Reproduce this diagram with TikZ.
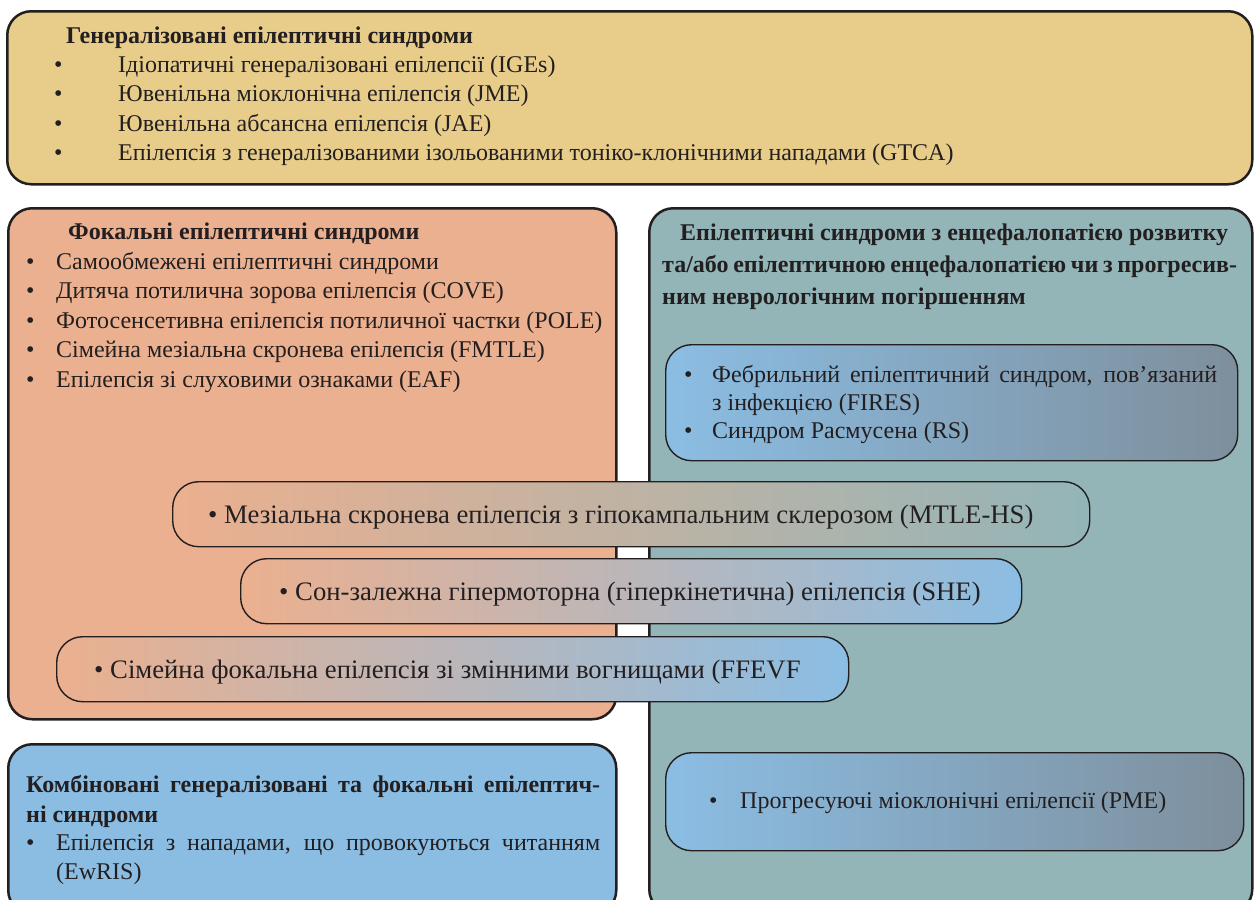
\documentclass[tikz,border=0pt]{standalone}
\usepackage{fontspec}
\setmainfont{Liberation Serif}
\definecolor{yel}{HTML}{E7CC8A}
\definecolor{org}{HTML}{EBB08F}
\definecolor{tea}{HTML}{93B5B8}
\definecolor{blu}{HTML}{8BBDE3}
\definecolor{gry}{HTML}{7E8F9C}
\definecolor{outl}{HTML}{231F20}
\newcommand\bodyfs{\fontsize{24}{29}\selectfont}
\newcommand\pillfs{\fontsize{26.7}{31}\selectfont}
\begin{document}
\begin{tikzpicture}[x=1pt,y=-1pt,
  bigbox/.style={draw=outl, line width=2.5pt, rounded corners=24pt, anchor=north west, inner sep=0pt},
  pill/.style={draw=outl, line width=1.4pt, rounded corners=26pt, anchor=north west, inner sep=0pt},
  t/.style={anchor=base west, inner sep=0pt, text=outl, font=\bodyfs},
  b/.style={t, font=\bodyfs\bfseries},
  p/.style={t, font=\pillfs}]
\useasboundingbox (0,0) rectangle (1254,900);
\clip (0,0) rectangle (1254,900);
% big boxes
\node[bigbox, fill=yel, minimum width=1245pt, minimum height=173pt] (gen) at (6,10) {};
\node[bigbox, fill=org, minimum width=608pt, minimum height=511pt] (foc) at (7,207) {};
\node[bigbox, fill=tea, minimum width=603pt, minimum height=705pt] (dev) at (648,207) {};
\node[bigbox, fill=blu, minimum width=608pt, minimum height=170pt] (comb) at (7,743) {};
% inner boxes
\node[pill, left color=blu, right color=gry, minimum width=572pt, minimum height=116pt] (fires) at (665,344) {};
\node[pill, left color=org, right color=tea, minimum width=917pt, minimum height=65pt] (mtle) at (172,481) {};
\node[pill, left color=org, right color=blu, minimum width=781pt, minimum height=65pt] (she) at (240,558) {};
\node[pill, left color=org, right color=blu, minimum width=792pt, minimum height=65pt] (ffevf) at (56,636) {};
\node[pill, left color=blu, right color=gry, minimum width=578pt, minimum height=98pt] (pme) at (665,752) {};
% generalized
\node[b] (g0) at (66,43) {Генералізовані епілептичні синдроми};
\node[t] (g1b) at (54,72) {•};
\node[t] (g1) at (118,72) {Ідіопатичні генералізовані епілепсії (IGEs)};
\node[t] (g2b) at (54,101) {•};
\node[t] (g2) at (118,101) {Ювенільна міоклонічна епілепсія (JME)};
\node[t] (g3b) at (54,131) {•};
\node[t] (g3) at (118,131) {Ювенільна абсансна епілепсія (JAE)};
\node[t] (g4b) at (54,160) {•};
\node[t] (g4) at (118,160) {Епілепсія з генералізованими ізольованими тоніко-клонічними нападами (GTCA)};
% focal
\node[b] (f0) at (68,239) {Фокальні епілептичні синдроми};
\node[t] (f1b) at (26,269) {•};
\node[t] (f1) at (56,269) {Самообмежені епілептичні синдроми};
\node[t] (f2b) at (26,298.5) {•};
\node[t] (f2) at (56,298.5) {Дитяча потилична зорова епілепсія (COVE)};
\node[t] (f3b) at (26,328) {•};
\node[t] (f3) at (56,328) {Фотосенсетивна епілепсія потиличної частки (POLE)};
\node[t] (f4b) at (26,357.5) {•};
\node[t] (f4) at (56,357.5) {Сімейна мезіальна скронева епілепсія (FMTLE)};
\node[t] (f5b) at (26,387) {•};
\node[t] (f5) at (56,387) {Епілепсія зі слуховими ознаками (EAF)};
% developmental
\node[b] (d1) at (680,240) {\makebox[548pt][s]{Епілептичні синдроми з енцефалопатією розвитку}};
\node[b] (d2) at (662,272) {\makebox[575pt][s]{та/або епілептичною енцефалопатією чи з прогресив-}};
\node[b] (d3) at (662,304) {ним неврологічним погіршенням};
\node[t] (r1b) at (684,382) {•};
\node[t] (r1) at (712,382) {\makebox[505pt][s]{Фебрильний епілептичний синдром, пов’язаний}};
\node[t] (r2) at (712,410) {з інфекцією (FIRES)};
\node[t] (r3b) at (684,438) {•};
\node[t] (r3) at (712,438) {Синдром Расмусена (RS)};
% pills
\node[p] (mt) at (208,523) {• Мезіальна скронева епілепсія з гіпокампальним склерозом (MTLE-HS)};
\node[p] (sh) at (279,600) {• Сон-залежна гіпермоторна (гіперкінетична) епілепсія (SHE)};
\node[p] (ff) at (94,678) {• Сімейна фокальна епілепсія зі змінними вогнищами (FFEVF};
\node[t] (pmb) at (709,808) {•};
\node[t] (pm) at (740,808) {Прогресуючі міоклонічні епілепсії (PME)};
% combined
\node[b] (c1) at (26,792) {\makebox[574pt][s]{Комбіновані генералізовані та фокальні епілептич-}};
\node[b] (c2) at (26,822) {ні синдроми};
\node[t] (c3b) at (26,850) {•};
\node[t] (c3) at (56,850) {\makebox[544pt][s]{Епілепсія з нападами, що провокуються читанням}};
\node[t] (c4) at (56,879) {(EwRIS)};
\end{tikzpicture}
\end{document}
